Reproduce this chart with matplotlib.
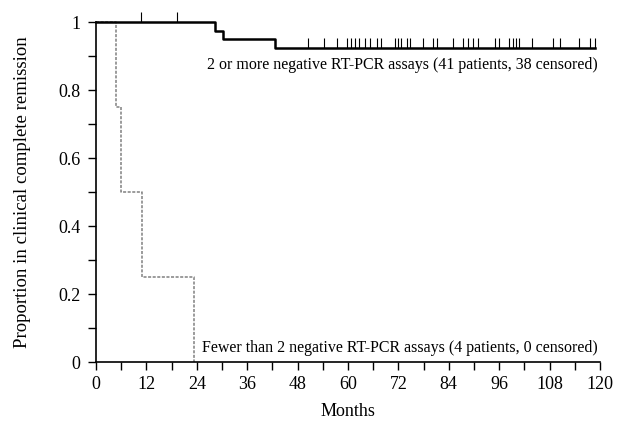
import numpy as np
import matplotlib.pyplot as plt
from matplotlib.ticker import MultipleLocator, FuncFormatter

plt.rcParams['font.family'] = ['Liberation Serif', 'DejaVu Serif']

# 2 or more negative RT-PCR assays (41 patients)
n_good = 41
good_events = [28.3, 30.3, 42.6]
good_censored = [10.7, 19.3, 50.5, 54.3, 57.4, 59.8, 60.7, 61.7, 62.6, 64.0,
                 65.2, 66.9, 67.9, 71.2, 71.9, 72.6, 74.0, 74.8, 77.9, 80.2,
                 81.2, 85.0, 87.4, 88.6, 89.8, 91.0, 95.0, 96.0, 98.3, 99.3,
                 100.0, 100.7, 103.8, 108.8, 110.5, 115.0, 117.6, 118.8]

# fewer than 2 negative assays (4 patients, all relapsed)
n_poor = 4
poor_events = [4.8, 6.0, 11.0, 23.3]

label_good = "2 or more negative RT-PCR assays (41 patients, 38 censored)"
label_poor = "Fewer than 2 negative RT-PCR assays (4 patients, 0 censored)"


def km_curve(n, events, censored):
    times = sorted([(t, 1) for t in events] + [(t, 0) for t in censored])
    at_risk = n
    s = 1.0
    xs, ys = [0.0], [1.0]
    cens_x, cens_y = [], []
    for t, ev in times:
        if ev:
            s = s * (at_risk - 1) / at_risk
            xs.append(t)
            ys.append(s)
        else:
            cens_x.append(t)
            cens_y.append(s)
        at_risk -= 1
    end = max(t for t, _ in times)
    xs.append(end)
    ys.append(s)
    return np.array(xs), np.array(ys), np.array(cens_x), np.array(cens_y)


fig = plt.figure(figsize=(6.21, 4.21), dpi=100)
ax = fig.add_axes([0.1546, 0.1401, 0.8116, 0.8076])

x1, y1, cx, cy = km_curve(n_good, good_events, good_censored)
ax.step(x1, y1, where='post', color='black', lw=1.8, clip_on=False, zorder=3)
ax.vlines(cx, cy, cy + 0.03, color='black', lw=0.8, clip_on=False, zorder=3)

x2, y2, _, _ = km_curve(n_poor, poor_events, [])
ax.step(x2, y2, where='post', color='0.5', lw=1.1,
        linestyle=(0, (2, 1)), clip_on=False, zorder=2)

ax.text(119.5, 0.875, label_good, ha='right', va='center', fontsize=11.5)
ax.text(119.5, 0.042, label_poor, ha='right', va='center', fontsize=11.5)

ax.set_xlim(0, 120)
ax.set_ylim(0, 1)
ax.xaxis.set_major_locator(MultipleLocator(12))
ax.xaxis.set_minor_locator(MultipleLocator(6))
ax.yaxis.set_major_locator(MultipleLocator(0.2))
ax.yaxis.set_minor_locator(MultipleLocator(0.1))
ax.yaxis.set_major_formatter(FuncFormatter(lambda v, p: '%g' % round(v, 1)))
ax.tick_params(which='both', direction='out', length=6, width=1,
               labelsize=13, colors='black')
ax.tick_params(axis='x', pad=4)
ax.tick_params(axis='y', pad=5)

for side in ['top', 'right']:
    ax.spines[side].set_visible(False)
for side in ['left', 'bottom']:
    ax.spines[side].set_linewidth(1.2)

ax.set_xlabel("Months", fontsize=13, labelpad=7)
ax.set_ylabel("Proportion in clinical complete remission", fontsize=13.5,
              labelpad=20)

fig.savefig("out.png", dpi=100)
